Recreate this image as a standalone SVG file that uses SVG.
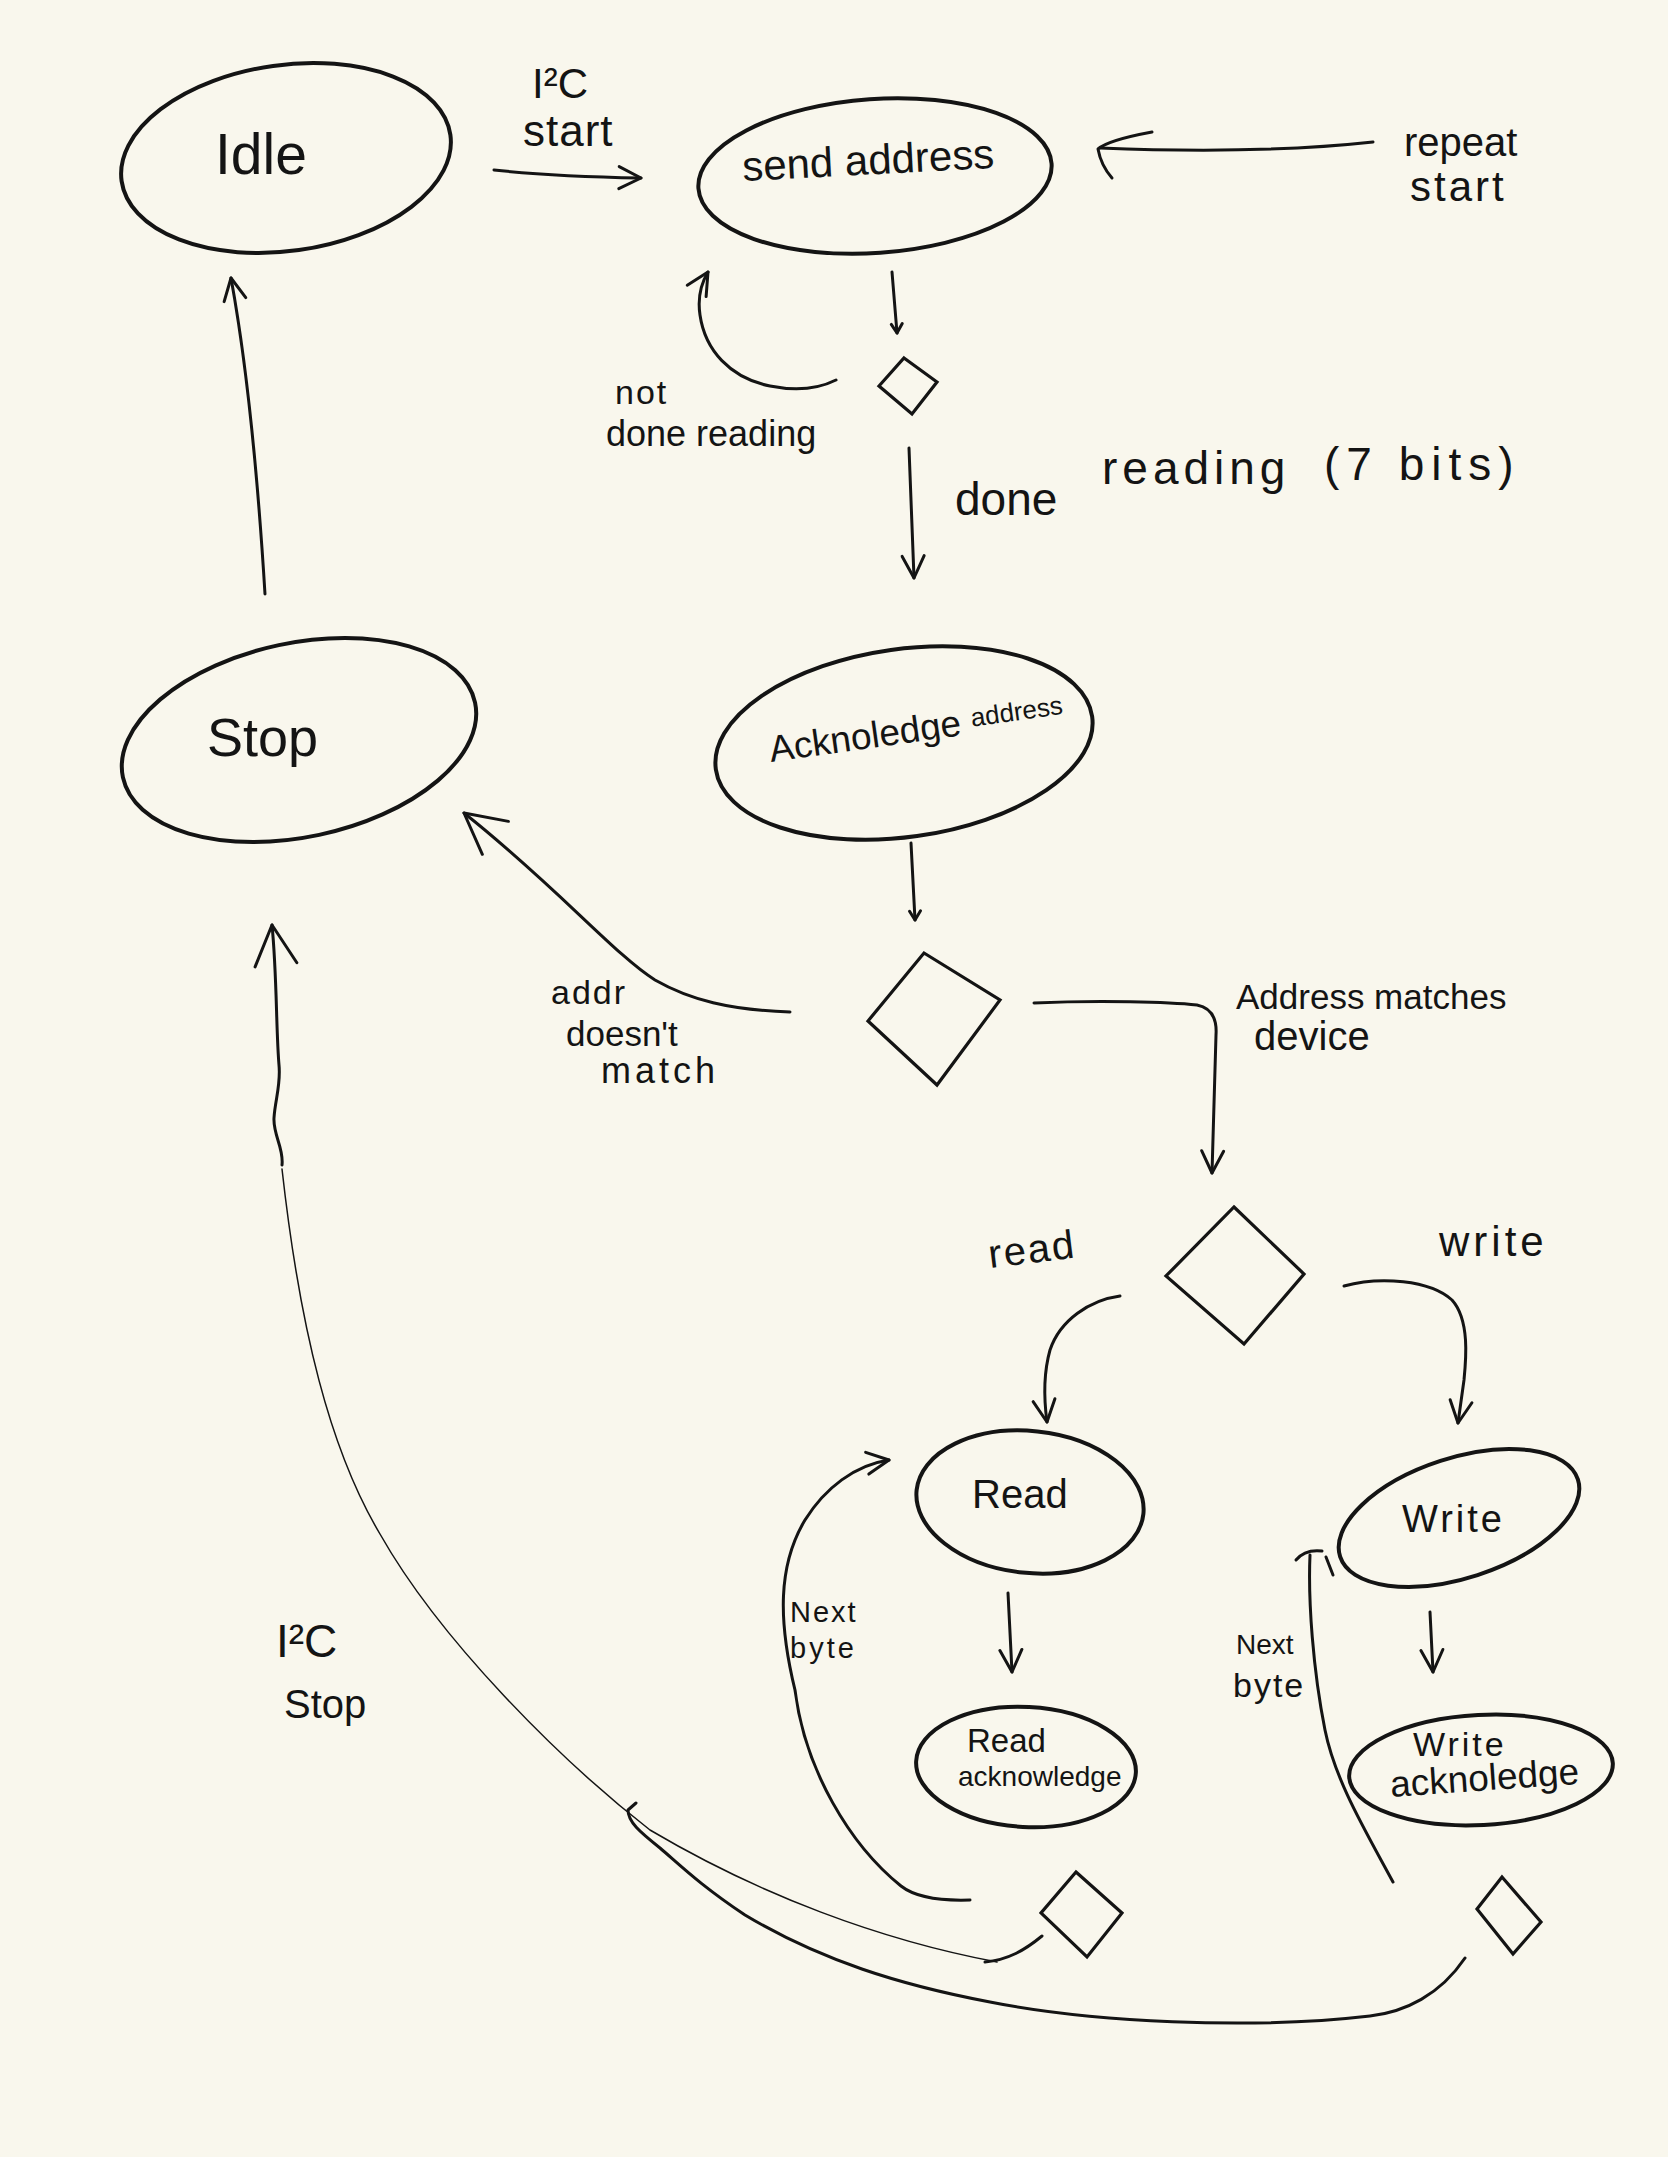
<svg xmlns="http://www.w3.org/2000/svg" width="1668" height="2157" viewBox="0 0 1668 2157">
<style>
.shape{fill:none;stroke:#141414;stroke-width:4}
.diamond{fill:none;stroke:#141414;stroke-width:3.2;stroke-linejoin:miter}
.edge{fill:none;stroke:#141414;stroke-width:3;stroke-linecap:round;stroke-linejoin:round}
.fine{stroke-width:1.5}
.head{fill:none;stroke:#141414;stroke-width:3;stroke-linecap:round;stroke-linejoin:round}
text{font-family:"Liberation Sans",Arial,sans-serif;fill:#141414}
</style>
<defs>
<marker id="arrow" viewBox="-30 -16 34 32" refX="0" refY="0" markerWidth="34" markerHeight="32" markerUnits="userSpaceOnUse" orient="auto">
<path class="head" d="M-22,-11 L0,0 L-22,11"/>
</marker>
<marker id="arrow-lg" viewBox="-46 -26 50 52" refX="0" refY="0" markerWidth="50" markerHeight="52" markerUnits="userSpaceOnUse" orient="auto">
<path class="head" d="M-40,-21 L0,0 L-40,21"/>
</marker>
<marker id="hook" viewBox="-14 -10 18 20" refX="0" refY="0" markerWidth="18" markerHeight="20" markerUnits="userSpaceOnUse" orient="auto">
<path class="head" d="M-9,-6 L0,0 L-9,5"/>
</marker>
</defs>
<rect width="1668" height="2157" fill="#f9f7ed"/>

<!-- states -->
<g id="idle">
<ellipse class="shape" cx="286" cy="158" rx="166" ry="93" transform="rotate(-8 286 158)"/>
<text x="215" y="174" font-size="57">Idle</text>
</g>
<g id="send-address">
<ellipse class="shape" cx="875" cy="176" rx="177" ry="77" transform="rotate(-4 875 176)"/>
<text x="743" y="181" font-size="42" transform="rotate(-3 743 181)">send address</text>
</g>
<g id="check-bits">
<polygon class="diamond" points="904,358 937,382 912,414 879,386"/>
</g>
<g id="acknowledge-address">
<ellipse class="shape" cx="904" cy="743" rx="190" ry="94" transform="rotate(-8 904 743)"/>
<text x="771" y="762" font-size="37" transform="rotate(-8 771 762)">Acknoledge <tspan x="975" y="755" font-size="26">address</tspan></text>
</g>
<g id="stop">
<ellipse class="shape" cx="299" cy="740" rx="180" ry="97" transform="rotate(-12 299 740)"/>
<text x="207" y="756" font-size="54">Stop</text>
</g>
<g id="check-match">
<polygon class="diamond" points="924,953 1000,1000 937,1085 868,1021"/>
</g>
<g id="check-direction">
<polygon class="diamond" points="1234,1207 1304,1274 1244,1344 1166,1276"/>
</g>
<g id="read">
<ellipse class="shape" cx="1030" cy="1502" rx="114" ry="71" transform="rotate(6 1030 1502)"/>
<text x="972" y="1508" font-size="40">Read</text>
</g>
<g id="write">
<ellipse class="shape" cx="1459" cy="1518" rx="125" ry="60" transform="rotate(-18 1459 1518)"/>
<text x="1402" y="1532" font-size="38" letter-spacing="3">Write</text>
</g>
<g id="read-acknowledge">
<ellipse class="shape" cx="1026" cy="1767" rx="110" ry="60" transform="rotate(3 1026 1767)"/>
<text x="967" y="1752" font-size="33">Read<tspan x="958" y="1786" font-size="28">acknowledge</tspan></text>
</g>
<g id="write-acknowledge">
<ellipse class="shape" cx="1481" cy="1770" rx="132" ry="55" transform="rotate(-3 1481 1770)"/>
<text x="1413" y="1756" font-size="34" letter-spacing="3">Write</text>
<text x="1391" y="1797" font-size="37" transform="rotate(-4 1391 1797)">acknoledge</text>
</g>
<g id="check-read-next">
<polygon class="diamond" points="1076,1872 1122,1913 1087,1957 1041,1913"/>
</g>
<g id="check-write-next">
<polygon class="diamond" points="1502,1877 1541,1922 1513,1954 1477,1909"/>
</g>

<!-- transitions -->
<g id="connectors">
<path class="edge" d="M494,170 C540,175 590,177 641,178" marker-end="url(#arrow)"/>
<path class="edge" d="M1373,142 C1300,150 1200,152 1100,148"/>
<path class="head" d="M1152,132 C1125,137 1105,143 1098,149 C1100,160 1105,170 1112,178"/>
<path class="edge" d="M892,272 L897,333" marker-end="url(#hook)"/>
<path class="edge" d="M836,380 C820,388 800,392 770,386 C730,378 705,350 700,315 C697,295 702,282 708,272" marker-end="url(#arrow)"/>
<path class="edge" d="M909,448 L914,578" marker-end="url(#arrow)"/>
<path class="edge" d="M265,594 C258,480 246,360 231,278" marker-end="url(#arrow)"/>
<path class="edge" d="M911,843 L915,920" marker-end="url(#hook)"/>
<path class="edge" d="M790,1012 C730,1010 690,1000 655,980 C615,955 555,885 464,813" marker-end="url(#arrow-lg)"/>
<path class="edge" d="M1034,1003 C1100,1000 1170,1002 1197,1005 C1212,1008 1217,1020 1216,1035 L1212,1173" marker-end="url(#arrow)"/>
<path class="edge" d="M1120,1296 C1090,1300 1060,1320 1050,1350 C1043,1375 1044,1400 1047,1422" marker-end="url(#arrow)"/>
<path class="edge" d="M1344,1286 C1380,1276 1430,1280 1452,1300 C1470,1320 1466,1360 1464,1380 L1458,1423" marker-end="url(#arrow)"/>
<path class="edge" d="M1008,1593 L1012,1672" marker-end="url(#arrow)"/>
<path class="edge" d="M1430,1612 L1433,1672" marker-end="url(#arrow)"/>
<path class="edge" d="M970,1900 C940,1901 915,1897 901,1886 C850,1845 805,1770 795,1690 C778,1620 778,1565 805,1520 C825,1488 855,1465 889,1460" marker-end="url(#arrow)"/>
<path class="edge" d="M1393,1882 C1365,1830 1335,1780 1325,1730 C1313,1670 1308,1600 1310,1555"/>
<path class="head" d="M1296,1560 Q1305,1549 1322,1551 M1326,1557 L1333,1575"/>
<path class="edge" d="M1042,1936 C1025,1950 1008,1960 985,1962"/>
<path class="edge fine" d="M997,1962 C880,1940 760,1895 650,1830 C560,1760 440,1640 380,1534 C330,1450 300,1330 282,1169"/>
<path class="edge" d="M282,1165 C284,1148 273,1135 274,1118 C275,1100 281,1085 279,1065 C276,1030 277,975 272,925" marker-end="url(#arrow-lg)"/>
<path class="edge" d="M1465,1958 C1440,1995 1405,2012 1370,2016 C1250,2030 1090,2022 990,2002 C900,1985 820,1960 745,1915 C700,1885 680,1865 660,1848 C640,1832 628,1822 628,1810 L636,1803"/>
</g>

<!-- transition labels -->
<g id="edge-labels">
<text x="532" y="98" font-size="42">I²C<tspan x="523" y="146" font-size="44" letter-spacing="1">start</tspan></text>
<text x="1404" y="156" font-size="40">repeat<tspan x="1410" y="201" font-size="42" letter-spacing="3">start</tspan></text>
<text x="615" y="404" font-size="34" letter-spacing="2">not<tspan x="606" y="446" font-size="36" letter-spacing="0">done reading</tspan></text>
<text x="955" y="515" font-size="46">done <tspan x="1102" y="484" letter-spacing="5">reading</tspan> <tspan x="1324" y="480" letter-spacing="7">(7 bits)</tspan></text>
<text x="551" y="1004" font-size="34" letter-spacing="2">addr<tspan x="566" y="1046" font-size="35" letter-spacing="0">doesn't</tspan><tspan x="601" y="1083" font-size="36" letter-spacing="4">match</tspan></text>
<text x="1236" y="1009" font-size="35">Address matches<tspan x="1254" y="1050" font-size="40">device</tspan></text>
<text x="990" y="1268" font-size="40" letter-spacing="2" transform="rotate(-7 990 1268)">read</text>
<text x="1439" y="1256" font-size="42" letter-spacing="4">write</text>
<text x="790" y="1622" font-size="29" letter-spacing="2">Next<tspan x="790" y="1658" letter-spacing="3">byte</tspan></text>
<text x="1236" y="1654" font-size="28">Next<tspan x="1233" y="1697" font-size="34" letter-spacing="2">byte</tspan></text>
<text x="276" y="1657" font-size="46">I²C<tspan x="284" y="1718" font-size="40">Stop</tspan></text>
</g>
</svg>
